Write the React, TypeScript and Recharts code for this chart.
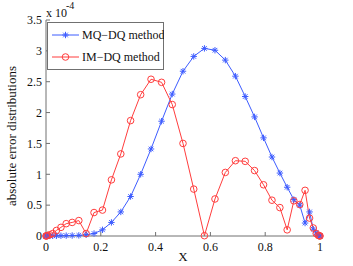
import React from "react";
import { LineChart, Line, XAxis, YAxis, Legend } from "recharts";

// collocation nodes on [0, 1]
const xNodes = [
  0, 0.0015, 0.0062, 0.0138, 0.0245, 0.0381, 0.0545, 0.0737, 0.0955, 0.1198,
  0.1464, 0.1753, 0.2061, 0.2388, 0.273, 0.3087, 0.3455, 0.3833, 0.4218, 0.4608,
  0.5, 0.5392, 0.5782, 0.6167, 0.6545, 0.6913, 0.727, 0.7612, 0.7939, 0.8247,
  0.8536, 0.8802, 0.9045, 0.9262, 0.9455, 0.9619, 0.9755, 0.9862, 0.9938, 0.9985,
  1,
];

// absolute errors, in units of 1e-4
const mqDq = [
  0, 0, 0, 0.002, 0.003, 0.004, 0.005, 0.006, 0.008, 0.01,
  0.02, 0.04, 0.1, 0.22, 0.39, 0.64, 1.0, 1.41, 1.86, 2.3,
  2.67, 2.91, 3.04, 3.01, 2.85, 2.59, 2.26, 1.93, 1.59, 1.28,
  1.02, 0.79, 0.59, 0.5, 0.21, 0.39, 0.11, 0.05, 0.01, 0.002,
  0,
];

const imDq = [
  0, 0.002, 0.01, 0.02, 0.04, 0.09, 0.14, 0.2, 0.22, 0.25,
  0.04, 0.38, 0.42, 0.91, 1.33, 1.87, 2.29, 2.54, 2.49, 2.13,
  1.5, 0.76, 0.005, 0.6, 1.03, 1.22, 1.21, 1.06, 0.83, 0.58,
  0.46, 0.1, 0.57, 0.51, 0.74, 0.29, 0.13, 0.04, 0.01, 0.002,
  0,
];

const xTicks = [0, 0.2, 0.4, 0.6, 0.8, 1];
const yTicks = [0, 0.5, 1, 1.5, 2, 2.5, 3, 3.5];
const seriesOrder = ["mq", "im"];

const data = xNodes.map((x, i) => ({ x, mq: mqDq[i], im: imDq[i] }));

const FONT = '"Liberation Serif", "Times New Roman", serif';
const BLUE = "#3d5cff";
const RED = "#ff3d3d";
const AXIS = "#707070";

const Star = ({ cx, cy, color }: { cx: number; cy: number; color: string }) => {
  const r = 3.2;
  const d = r * 0.72;
  return (
    <g stroke={color} strokeWidth={1}>
      <line x1={cx - r} y1={cy} x2={cx + r} y2={cy} />
      <line x1={cx} y1={cy - r} x2={cx} y2={cy + r} />
      <line x1={cx - d} y1={cy - d} x2={cx + d} y2={cy + d} />
      <line x1={cx - d} y1={cy + d} x2={cx + d} y2={cy - d} />
    </g>
  );
};

const renderStar = (p: any) => (
  <Star key={`mq-${p.index}`} cx={p.cx} cy={p.cy} color={BLUE} />
);

const renderCircle = (p: any) => (
  <circle
    key={`im-${p.index}`}
    cx={p.cx}
    cy={p.cy}
    r={3.3}
    fill="none"
    stroke={RED}
    strokeWidth={1}
  />
);

const LegendBox = ({ payload }: any) => {
  const items = [...(payload || [])].sort(
    (a: any, b: any) => seriesOrder.indexOf(a.dataKey) - seriesOrder.indexOf(b.dataKey)
  );
  return (
    <svg width={117} height={48} style={{ display: "block" }}>
      <rect x={0.5} y={0.5} width={116} height={47} fill="#fff" stroke={AXIS} />
      {items.map((it: any, i: number) => {
        const y = 13 + i * 22;
        return (
          <g key={it.value}>
            <line x1={5} x2={32} y1={y} y2={y} stroke={it.color} />
            {it.dataKey === "mq" ? (
              <Star cx={18.5} cy={y} color={it.color} />
            ) : (
              <circle cx={18.5} cy={y} r={3.3} fill="none" stroke={it.color} />
            )}
            <text x={35} y={y + 4} fontFamily={FONT} fontSize={12} fill="#111">
              {it.value}
            </text>
          </g>
        );
      })}
    </svg>
  );
};

export default function App() {
  return (
    <div
      style={{
        position: "absolute",
        left: 0,
        top: 0,
        width: 353,
        height: 266,
        background: "#fff",
      }}
    >
      <LineChart
        width={353}
        height={266}
        data={data}
        margin={{ top: 20, right: 33, bottom: 0, left: 6 }}
      >
        <XAxis
          dataKey="x"
          type="number"
          domain={[0, 1]}
          ticks={xTicks}
          tickSize={-4}
          tickMargin={10}
          height={30}
          stroke={AXIS}
          tick={{ fontFamily: FONT, fontSize: 12, fill: "#111" }}
          label={{
            value: "X",
            position: "insideBottom",
            offset: 5,
            fontFamily: FONT,
            fontSize: 13,
            fill: "#111",
          }}
        />
        <XAxis
          xAxisId="top"
          dataKey="x"
          type="number"
          orientation="top"
          domain={[0, 1]}
          ticks={xTicks}
          tickSize={-4}
          height={0}
          stroke={AXIS}
          tick={false}
        />
        <YAxis
          type="number"
          domain={[0, 3.5]}
          ticks={yTicks}
          tickSize={-4}
          tickMargin={8}
          width={40}
          stroke={AXIS}
          tick={{ fontFamily: FONT, fontSize: 12, fill: "#111" }}
          label={{
            value: "absolute error distributions",
            angle: -90,
            position: "insideLeft",
            offset: 0,
            dx: 5,
            dy: 8,
            style: { textAnchor: "middle" },
            fontFamily: FONT,
            fontSize: 13,
            fill: "#111",
          }}
        />
        <YAxis
          yAxisId="right"
          orientation="right"
          type="number"
          domain={[0, 3.5]}
          ticks={yTicks}
          tickSize={-4}
          width={0}
          stroke={AXIS}
          tick={false}
        />
        <Legend
          layout="horizontal"
          verticalAlign="middle"
          align="center"
          content={<LegendBox />}
          wrapperStyle={{ position: "absolute", left: 47, top: 22, width: 117, height: 48 }}
        />
        <Line
          dataKey="mq"
          name="MQ−DQ method"
          stroke={BLUE}
          strokeWidth={1}
          dot={renderStar}
          activeDot={false}
          isAnimationActive={false}
        />
        <Line
          dataKey="im"
          name="IM−DQ method"
          stroke={RED}
          strokeWidth={1}
          dot={renderCircle}
          activeDot={false}
          isAnimationActive={false}
        />
      </LineChart>
      <svg
        width={80}
        height={20}
        style={{ position: "absolute", left: 0, top: 0, pointerEvents: "none" }}
      >
        <text x={46} y={17} fontFamily={FONT} fontSize={12} fill="#111">
          x 10
        </text>
        <text x={66} y={9} fontFamily={FONT} fontSize={10} fill="#111">
          -4
        </text>
      </svg>
    </div>
  );
}
